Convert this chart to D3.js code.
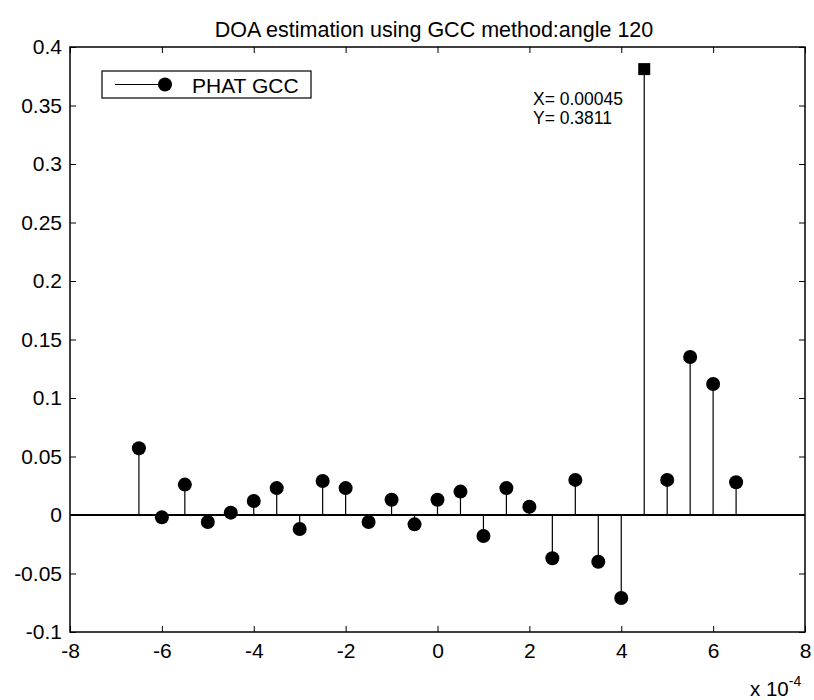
<!DOCTYPE html>
<html lang="en">
<head>
  <meta charset="UTF-8">
  <title>DOA estimation using GCC</title>
  <script src="https://cdn.jsdelivr.net/npm/d3@7"></script>
  <style>
    body { margin: 0; background: #fff; }
    text { font-family: "Liberation Sans", Arial, sans-serif; fill: #000; }
  </style>
</head>
<body>
  <svg width="814" height="700"></svg>
  <script>
    // lag in units of 1e-4 s
    var lags = [-6.5, -6, -5.5, -5, -4.5, -4, -3.5, -3, -2.5, -2, -1.5, -1, -0.5,
                0, 0.5, 1, 1.5, 2, 2.5, 3, 3.5, 4, 4.5, 5, 5.5, 6, 6.5];
    var gcc = [0.057, -0.002, 0.026, -0.006, 0.002, 0.012, 0.023, -0.012, 0.029, 0.023, -0.006, 0.013, -0.008,
               0.013, 0.020, -0.018, 0.023, 0.007, -0.037, 0.030, -0.040, -0.071, 0.3811, 0.030, 0.135, 0.112, 0.028];
    var xTicks = [-8, -6, -4, -2, 0, 2, 4, 6, 8];
    var yTicks = [-0.1, -0.05, 0, 0.05, 0.1, 0.15, 0.2, 0.25, 0.3, 0.35, 0.4];
    var peakIndex = 22;

    var points = lags.map((d, i) => ({ lag: d, value: gcc[i], i: i }));

    var svg = d3.select("svg");
    var mLeft = 70, mRight = 805, mTop = 47, mBottom = 632;

    var x = d3.scaleLinear().domain([-8, 8]).range([mLeft, mRight]);
    var y = d3.scaleLinear().domain([-0.1, 0.4]).range([mBottom, mTop]);

    // MATLAB-style labels with a plain hyphen
    var fmt = d => String(+d.toFixed(2));

    // axes: ticks pointing inward
    svg.append("g")
      .attr("transform", "translate(0," + mBottom + ")")
      .call(d3.axisBottom(x).tickValues(xTicks).tickSize(-6).tickPadding(11).tickFormat(fmt))
      .call(g => g.select(".domain").remove())
      .selectAll("text").style("font-size", "21px");

    svg.append("g")
      .attr("transform", "translate(0," + mTop + ")")
      .call(d3.axisTop(x).tickValues(xTicks).tickSize(-6).tickFormat(""))
      .call(g => g.select(".domain").remove());

    svg.append("g")
      .attr("transform", "translate(" + mLeft + ",0)")
      .call(d3.axisLeft(y).tickValues(yTicks).tickSize(-6).tickPadding(8).tickFormat(fmt))
      .call(g => g.select(".domain").remove())
      .selectAll("text").style("font-size", "21px");

    svg.append("g")
      .attr("transform", "translate(" + mRight + ",0)")
      .call(d3.axisRight(y).tickValues(yTicks).tickSize(-6).tickFormat(""))
      .call(g => g.select(".domain").remove());

    svg.selectAll(".tick line").attr("stroke", "#000");

    svg.append("rect")
      .attr("x", mLeft).attr("y", mTop)
      .attr("width", mRight - mLeft).attr("height", mBottom - mTop)
      .attr("fill", "none").attr("stroke", "#000").attr("stroke-width", 1.5);

    // baseline
    svg.append("line")
      .attr("x1", mLeft).attr("x2", mRight)
      .attr("y1", y(0)).attr("y2", y(0))
      .attr("stroke", "#000").attr("stroke-width", 2);

    // stems
    svg.selectAll(".stem")
      .data(points)
      .enter()
      .append("line")
      .attr("class", "stem")
      .attr("x1", d => x(d.lag)).attr("x2", d => x(d.lag))
      .attr("y1", y(0)).attr("y2", d => y(d.value))
      .attr("stroke", "#000").attr("stroke-width", 1.2);

    svg.selectAll(".dot")
      .data(points.filter(d => d.i !== peakIndex))
      .enter()
      .append("circle")
      .attr("class", "dot")
      .attr("cx", d => x(d.lag))
      .attr("cy", d => y(d.value))
      .attr("r", 7)
      .attr("fill", "#000");

    // data tip
    var peak = points[peakIndex];
    svg.append("rect")
      .attr("x", x(peak.lag) - 6).attr("y", y(peak.value) - 6)
      .attr("width", 12).attr("height", 12)
      .attr("fill", "#000");
    svg.append("text").attr("x", 533).attr("y", 105).style("font-size", "17.5px").text("X= 0.00045");
    svg.append("text").attr("x", 533).attr("y", 124).style("font-size", "17.5px").text("Y= 0.3811");

    // legend
    svg.append("rect")
      .attr("x", 102).attr("y", 71).attr("width", 209).attr("height", 27)
      .attr("fill", "#fff").attr("stroke", "#000").attr("stroke-width", 1.2);
    svg.append("line")
      .attr("x1", 115).attr("x2", 165).attr("y1", 84.5).attr("y2", 84.5)
      .attr("stroke", "#000").attr("stroke-width", 1.2);
    svg.append("circle").attr("cx", 165).attr("cy", 84.5).attr("r", 7).attr("fill", "#000");
    svg.append("text").attr("x", 192).attr("y", 93).style("font-size", "21px").text("PHAT GCC");

    // title
    svg.append("text")
      .attr("x", 434).attr("y", 37)
      .attr("text-anchor", "middle").style("font-size", "21.5px")
      .text("DOA estimation using GCC method:angle 120");

    // exponent label
    var ex = svg.append("text").attr("x", 750).attr("y", 696).style("font-size", "20.5px");
    ex.append("tspan").text("x 10");
    ex.append("tspan").attr("dy", -10).style("font-size", "14px").text("-4");
  </script>
</body>
</html>
